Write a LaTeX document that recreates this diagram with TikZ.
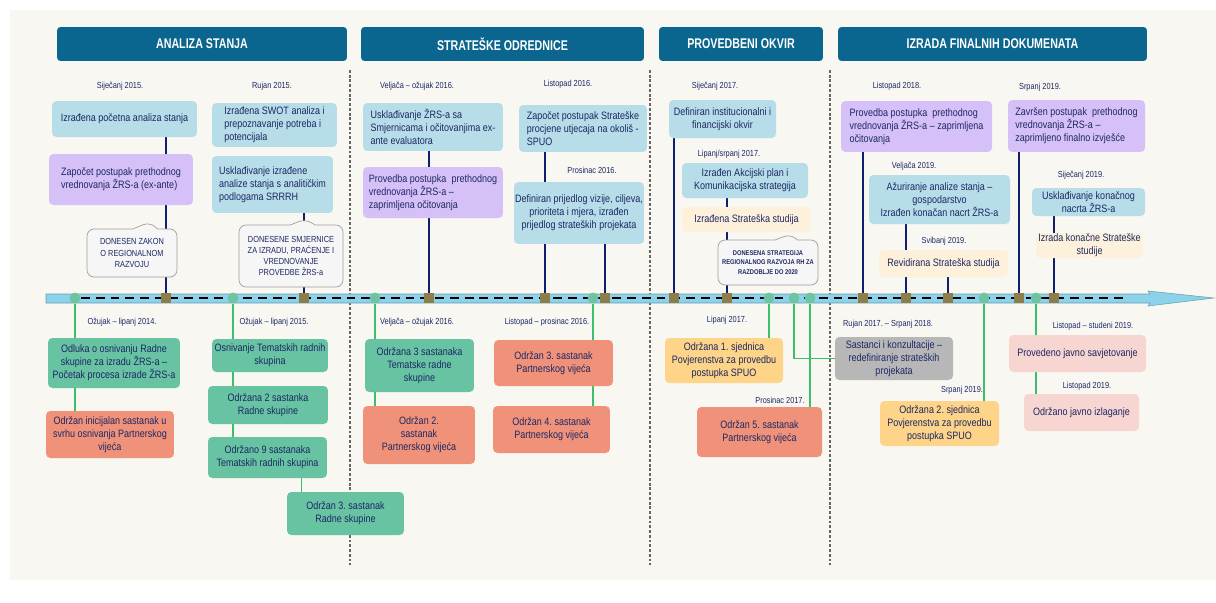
\documentclass[tikz,border=0pt]{standalone}
\usepackage{fontspec}
\setmainfont{Liberation Sans}[FakeStretch=0.84]
\newfontfamily\headfont{Liberation Sans}[FakeStretch=0.76]
\usepackage{tikz}
\usetikzlibrary{shapes.callouts}
\frenchspacing

\definecolor{paper}{RGB}{248,247,242}
\definecolor{headblue}{RGB}{10,102,142}
\definecolor{navytext}{RGB}{28,40,100}
\definecolor{navyline}{RGB}{16,30,110}
\definecolor{greenline}{RGB}{60,190,110}
\definecolor{infoblue}{RGB}{183,221,232}
\definecolor{evalpurple}{RGB}{213,193,247}
\definecolor{studycream}{RGB}{253,241,220}
\definecolor{groupgreen}{RGB}{104,195,163}
\definecolor{partsalmon}{RGB}{240,146,122}
\definecolor{spuoorange}{RGB}{253,212,136}
\definecolor{consgray}{RGB}{183,183,183}
\definecolor{publpink}{RGB}{247,213,208}
\definecolor{barblue}{RGB}{140,210,235}
\definecolor{dotgreen}{RGB}{110,196,160}
\definecolor{sqbrown}{RGB}{140,125,75}

\pgfdeclarelayer{back}
\pgfdeclarelayer{background}
\pgfsetlayers{back,background,main}

\newcommand{\boxfont}{\fontsize{6.1}{7.5}\selectfont}
\newcommand{\dtfont}{\fontsize{5}{6}\selectfont}
\newcommand{\callfont}{\fontsize{5}{6.3}\selectfont}

\begin{document}
\begin{tikzpicture}[x=0.02cm,y=-0.02cm,font=\boxfont,text=navytext,
                    navy/.style={draw=navyline,line width=1.1pt},
                    grn/.style={draw=greenline,line width=0.6pt}]
  \tikzstyle{box}=[rectangle,rounded corners=2.5pt,inner sep=0pt,align=center]
  \tikzstyle{infobox}=[box,fill=infoblue]
  \tikzstyle{evalbox}=[box,fill=evalpurple,align=left]
  \tikzstyle{studybox}=[box,fill=studycream]
  \tikzstyle{groupbox}=[box,fill=groupgreen]
  \tikzstyle{partbox}=[box,fill=partsalmon]
  \tikzstyle{spuobox}=[box,fill=spuoorange]
  \tikzstyle{consbox}=[box,fill=consgray]
  \tikzstyle{publbox}=[box,fill=publpink]
  \tikzstyle{headbox}=[rectangle,rounded corners=2pt,fill=headblue,text=white,minimum height=0.68cm,
                       font={\headfont\bfseries\fontsize{8}{9}\selectfont}]
  \tikzstyle{notebox}=[rectangle callout,draw=gray!75,fill=gray!7,rounded corners=4pt,
                       inner sep=0pt,align=center,font=\callfont,callout pointer width=0.5cm]
  \tikzstyle{datelbl}=[inner sep=0pt,font=\dtfont]
  \tikzstyle{sqmark}=[rectangle,fill=sqbrown,inner sep=0pt,minimum size=5.2pt]
  \tikzstyle{dotmark}=[circle,fill=dotgreen,inner sep=0pt,minimum size=6.2pt]
  \tikzstyle{sep}=[draw=gray!80!black,line width=0.8pt,dash pattern=on 1.6pt off 1.1pt]

  \useasboundingbox (0,0) rectangle (1216,602);
  \begin{pgfonlayer}{back}
    \fill[paper] (10,10) rectangle (1216,580);
  \end{pgfonlayer}

  \node[headbox, minimum width=5.8cm]  (h1) at (202,44)   {ANALIZA STANJA};
  \node[headbox, minimum width=5.66cm] (h2) at (502.5,44) {STRATEŠKE ODREDNICE};
  \node[headbox, minimum width=3.28cm] (h3) at (741,44)   {PROVEDBENI OKVIR};
  \node[headbox, minimum width=6.18cm] (h4) at (992.5,44) {IZRADA FINALNIH DOKUMENATA};

  \filldraw[fill=barblue,draw=barblue!75!black,line width=0.3pt]
    (46,294) -- (1150,294) -- (1148,291) -- (1214,298) -- (1148,306) -- (1150,303) -- (46,303) -- cycle;
  \draw[black,line width=1.6pt,dash pattern=on 5pt off 3.4pt] (81,298) -- (1125,298);

  \node[sqmark] (s1)  at (166,298) {};
  \node[sqmark] (s2)  at (304,298) {};
  \node[sqmark] (s3)  at (429,298) {};
  \node[sqmark] (s4)  at (545,298) {};
  \node[sqmark] (s5)  at (605,298) {};
  \node[sqmark] (s6)  at (674,298) {};
  \node[sqmark] (s7)  at (727,298) {};
  \node[sqmark] (s8)  at (863,298) {};
  \node[sqmark] (s9)  at (906,298) {};
  \node[sqmark] (s10) at (948,298) {};
  \node[sqmark] (s11) at (1019,298) {};
  \node[sqmark] (s12) at (1054,298) {};
  \node[dotmark] (g1) at (75,298) {};
  \node[dotmark] (g2) at (233,298) {};
  \node[dotmark] (g3) at (375,298) {};
  \node[dotmark] (g4) at (593,298) {};
  \node[dotmark] (g5) at (769,298) {};
  \node[dotmark] (g6) at (794,298) {};
  \node[dotmark] (g7) at (810,298) {};
  \node[dotmark] (g8) at (984,298) {};
  \node[dotmark] (g9) at (1036,298) {};

  \node[datelbl] (d1)  at (120,86)  {Siječanj 2015.};
  \node[datelbl] (d2)  at (272,86)  {Rujan 2015.};
  \node[datelbl] (d3)  at (417,86)  {Veljača – ožujak 2016.};
  \node[datelbl] (d4)  at (568,84)  {Listopad 2016.};
  \node[datelbl] (d5)  at (592,170) {Prosinac 2016.};
  \node[datelbl] (d6)  at (715,86)  {Siječanj 2017.};
  \node[datelbl] (d7)  at (729,154) {Lipanj/srpanj 2017.};
  \node[datelbl] (d8)  at (897,86)  {Listopad 2018.};
  \node[datelbl] (d9)  at (914,166) {Veljača 2019.};
  \node[datelbl] (d10) at (944,241) {Svibanj 2019.};
  \node[datelbl] (d11) at (1040,87) {Srpanj 2019.};
  \node[datelbl] (d12) at (1081,175) {Siječanj 2019.};
  \node[datelbl] (d13) at (122,322) {Ožujak – lipanj 2014.};
  \node[datelbl] (d14) at (274,322) {Ožujak – lipanj 2015.};
  \node[datelbl] (d15) at (417,322) {Veljača – ožujak 2016.};
  \node[datelbl] (d16) at (547,322) {Listopad – prosinac 2016.};
  \node[datelbl] (d17) at (727,320) {Lipanj 2017.};
  \node[datelbl] (d18) at (780,400) {Prosinac 2017.};
  \node[datelbl] (d19) at (888,324) {Rujan 2017. – Srpanj 2018.};
  \node[datelbl] (d20) at (962,390) {Srpanj 2019.};
  \node[datelbl] (d21) at (1093,326) {Listopad – studeni 2019.};
  \node[datelbl] (d22) at (1087,386) {Listopad 2019.};

  \node[infobox, minimum width=2.90cm, minimum height=0.72cm] (izr) at (124.5,119) {Izrađena početna analiza stanja};
  \node[evalbox, minimum width=2.88cm, minimum height=1.02cm] (exa) at (121,179.5) {Započet postupak prethodnog\\vrednovanja ŽRS-a (ex-ante)};
  \node[notebox, minimum width=1.80cm, minimum height=0.96cm, callout absolute pointer={(150,222)}] (zak) at (132,253) {DONESEN ZAKON\\O REGIONALNOM\\RAZVOJU};
  \node[infobox, align=left, minimum width=2.50cm, minimum height=0.88cm] (swot) at (274.5,125) {Izrađena SWOT analiza i\\prepoznavanje potreba i\\potencijala};
  \node[infobox, align=left, minimum width=2.42cm, minimum height=1.14cm] (usk) at (272.5,184.5) {Usklađivanje izrađene\\analize stanja s analitičkim\\podlogama SRRRH};
  \node[notebox, minimum width=2.08cm, minimum height=1.24cm, callout absolute pointer={(305,219)}] (smj) at (291,256) {DONESENE SMJERNICE\\ZA IZRADU, PRAĆENJE I\\VREDNOVANJE\\PROVEDBE ŽRS-a};

  \node[infobox, align=left, minimum width=2.80cm, minimum height=0.96cm] (sm) at (433,127) {Usklađivanje ŽRS-a sa\\Smjernicama i očitovanjima ex-\\ante evaluatora};
  \node[evalbox, minimum width=2.80cm, minimum height=1.02cm] (pro) at (433,192.5) {Provedba postupka\ \ prethodnog\\vrednovanja ŽRS-a –\\zaprimljena očitovanja};
  \node[infobox, align=left, minimum width=2.56cm, minimum height=0.94cm] (spuo) at (583,128.5) {Započet postupak Strateške\\procjene utjecaja na okoliš -\\SPUO};
  \node[infobox, minimum width=2.60cm, minimum height=1.24cm] (viz) at (579,213) {Definiran prijedlog vizije, ciljeva,\\prioriteta i mjera, izrađen\\prijedlog strateških projekata};

  \node[infobox, minimum width=2.14cm, minimum height=0.76cm] (ins) at (722.5,119) {Definiran institucionalni i\\financijski okvir};
  \node[infobox, minimum width=2.52cm, minimum height=0.70cm] (akc) at (745,180.5) {Izrađen Akcijski plan i\\Komunikacijska strategija};
  \node[studybox, minimum width=2.58cm, minimum height=0.50cm] (stu) at (746.5,219.5) {Izrađena Strateška studija};
  \node[notebox, font={\fontsize{3.9}{5.2}\selectfont\bfseries}, minimum width=2.00cm, minimum height=0.90cm,
        callout pointer width=0.45cm, callout absolute pointer={(791,234)}] (str) at (768,262.5) {DONESENA STRATEGIJA\\REGIONALNOG RAZVOJA RH ZA\\RAZDOBLJE DO 2020};

  \node[evalbox, minimum width=3.02cm, minimum height=1.02cm] (ocit) at (916.5,126.5) {Provedba postupka\ \ prethodnog\\vrednovanja ŽRS-a – zaprimljena\\očitovanja};
  \node[infobox, minimum width=2.82cm, minimum height=0.98cm] (azu) at (939.5,199.5) {Ažuriranje analize stanja –\\gospodarstvo\\Izrađen konačan nacrt ŽRS-a};
  \node[studybox, minimum width=2.58cm, minimum height=0.54cm] (rev) at (943.5,263.5) {Revidirana Strateška studija};
  \node[evalbox, minimum width=2.74cm, minimum height=1.04cm] (zav) at (1076.5,126) {Završen postupak\ \ prethodnog\\vrednovanja ŽRS-a –\\zaprimljeno finalno izvješće};
  \node[infobox, minimum width=2.26cm, minimum height=0.56cm] (kon) at (1088.5,202) {Usklađivanje konačnog\\nacrta ŽRS-a};
  \node[studybox, minimum width=2.14cm, minimum height=0.50cm] (izs) at (1089.5,245.5) {Izrada konačne Strateške\\studije};

  \node[groupbox, minimum width=2.64cm, minimum height=1.00cm] (odl) at (114,363) {Odluka o osnivanju Radne\\skupine za izradu ŽRS-a –\\Početak procesa izrade ŽRS-a};
  \node[partbox, minimum width=2.56cm, minimum height=0.94cm] (ini) at (110,434.5) {Održan inicijalan sastanak u\\svrhu osnivanja Partnerskog\\vijeća};
  \node[groupbox, minimum width=2.32cm, minimum height=0.66cm] (tem) at (270,355.5) {Osnivanje Tematskih radnih\\skupina};
  \node[groupbox, minimum width=2.40cm, minimum height=0.76cm] (rs2) at (268,405) {Održana 2 sastanka\\Radne skupine};
  \node[groupbox, minimum width=2.38cm, minimum height=0.82cm] (ts9) at (267.5,457.5) {Održano 9 sastanaka\\Tematskih radnih skupina};
  \node[groupbox, minimum width=2.34cm, minimum height=0.86cm] (rs3) at (345.5,513.5) {Održan 3. sastanak\\Radne skupine};
  \node[groupbox, minimum width=2.18cm, minimum height=1.06cm] (ts3) at (419.5,365.5) {Održana 3 sastanaka\\Tematske radne\\skupine};
  \node[partbox, minimum width=2.24cm, minimum height=1.16cm] (pv2) at (419,435) {Održan 2.\\sastanak\\Partnerskog vijeća};
  \node[partbox, minimum width=2.38cm, minimum height=0.92cm] (pv3) at (553.5,363) {Održan 3. sastanak\\Partnerskog vijeća};
  \node[partbox, minimum width=2.34cm, minimum height=0.94cm] (pv4) at (551.5,429.5) {Održan 4. sastanak\\Partnerskog vijeća};
  \node[spuobox, minimum width=2.36cm, minimum height=0.90cm] (sj1) at (724,360.5) {Održana 1. sjednica\\Povjerenstva za provedbu\\postupka SPUO};
  \node[partbox, minimum width=2.50cm, minimum height=1.00cm] (pv5) at (759.5,432) {Održan 5. sastanak\\Partnerskog vijeća};
  \node[consbox, minimum width=2.36cm, minimum height=0.86cm] (kons) at (894,358.5) {Sastanci i konzultacije –\\redefiniranje strateških\\projekata};
  \node[spuobox, minimum width=2.38cm, minimum height=0.90cm] (sj2) at (939.5,423.5) {Održana 2. sjednica\\Povjerenstva za provedbu\\postupka SPUO};
  \node[publbox, minimum width=2.74cm, minimum height=0.74cm] (jsav) at (1077.5,353.5) {Provedeno javno savjetovanje};
  \node[publbox, minimum width=2.30cm, minimum height=0.74cm] (jizl) at (1081.5,412.5) {Održano javno izlaganje};

  \coordinate (rsx) at ([xshift=0.3cm]rs3.north west);

  \begin{pgfonlayer}{background}
    \draw[sep] (350,70) -- (350,565);
    \draw[sep] (650,70) -- (650,565);
    \draw[sep] (830,70) -- (830,565);
    \path[navy] (izr.south -| s1) edge (s1)
                (usk.south -| s2) edge (s2)
                (sm.south -| s3) edge (s3)
                (spuo.south -| s4) edge (s4)
                (viz.south -| s5) edge (s5)
                (ins.south -| s6) edge (s6)
                (akc.south -| s7) edge (s7)
                (ocit.south -| s8) edge (s8)
                (azu.south -| s9) edge (s9)
                (rev.south -| s10) edge (s10)
                (zav.south -| s11) edge (s11)
                (kon.south -| s12) edge (s12);
    \path[grn] (g1) edge (g1 |- ini.north)
               (g2) edge (g2 |- ts9.north)
               (rsx |- ts9.south) edge (rsx)
               (g3) edge (g3 |- pv2.north)
               (g4) edge (g4 |- pv4.north)
               (g5) edge (g5 |- sj1.north)
               (g7) edge (g7 |- pv5.north)
               (g8) edge (g8 |- sj2.north)
               (g9) edge (g9 |- jizl.north);
    \draw[grn] (g6) |- (kons.west);
  \end{pgfonlayer}
\end{tikzpicture}
\end{document}
